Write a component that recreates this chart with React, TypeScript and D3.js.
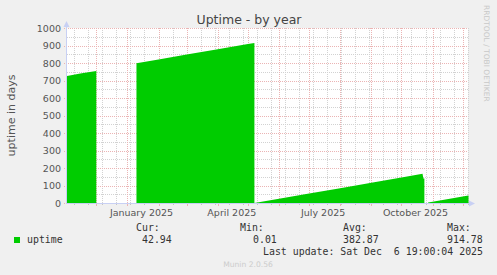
import React from "react";
import * as d3 from "d3";

// ---- data ----
const parse = d3.timeParse("%Y-%m-%d %H:%M");
const rangeStart = "2024-11-01 19:00";
const rangeEnd = "2025-12-06 19:00";

// uptime (days), one array per contiguous run of samples
const seg1Times = ["2024-11-01 19:00", "2024-11-15 00:00", "2024-12-01 00:00"];
const seg1Values = [726, 740, 755];
const seg2Times = ["2025-01-10 00:00", "2025-02-01 00:00", "2025-03-01 00:00", "2025-04-01 00:00", "2025-05-01 00:00", "2025-05-07 12:00"];
const seg2Values = [798, 820, 848, 879, 909, 914.78];
const seg3Times = ["2025-05-07 13:00", "2025-06-01 00:00", "2025-07-01 00:00", "2025-08-01 00:00", "2025-09-01 00:00", "2025-10-01 00:00", "2025-10-22 00:00", "2025-10-22 20:00", "2025-10-23 20:00"];
const seg3Values = [0.01, 24, 54, 85, 116, 146, 167, 140, 140];
const seg4Times = ["2025-10-27 12:00", "2025-11-01 00:00", "2025-12-01 00:00", "2025-12-06 19:00"];
const seg4Values = [2.5, 7.5, 37, 42.94];

const yTicks = [0, 100, 200, 300, 400, 500, 600, 700, 800, 900, 1000];
const yMinor = [50, 150, 250, 350, 450, 550, 650, 750, 850, 950];
const xLabelTimes = ["2025-01-15 00:00", "2025-04-15 00:00", "2025-07-15 00:00", "2025-10-15 00:00"];
const xLabels = ["January 2025", "April 2025", "July 2025", "October 2025"];
const minorGridStart = "2024-11-09 00:00";

const legendHeaders = ["Cur:", "Min:", "Avg:", "Max:"];
const legendValues = ["42.94", "0.01", "382.87", "914.78"];

const segments = [
  [seg1Times, seg1Values],
  [seg2Times, seg2Values],
  [seg3Times, seg3Values],
  [seg4Times, seg4Values],
].map(([t, v]) => (t as string[]).map((s, i) => ({ t: parse(s)!, v: (v as number[])[i] })));

export default function App() {
  const W = 497, H = 275;
  const left = 67, top = 28, bottom = 203;
  const x = d3.scaleTime().domain([parse(rangeStart)!, parse(rangeEnd)!]).range([left, 468.5]);
  const y = d3.scaleLinear().domain([0, 1000]).range([bottom, top]);
  const plotRight = 468;

  const area = d3.area<{ t: Date; v: number }>()
    .x((d) => x(d.t))
    .y0(y(0))
    .y1((d) => y(d.v));

  const months = d3.timeMonth.range(d3.timeMonth.ceil(parse(rangeStart)!), parse(rangeEnd)!);
  const minorDates: Date[] = [];
  for (let d = parse(minorGridStart)!; d < parse(rangeEnd)!; d = d3.timeDay.offset(d, 14)) minorDates.push(d);

  const majorColor = "#ebb4b4";
  const minorColor = "#d2d2d2";
  const axisColor = "#c8d0f4";
  const font = "'DejaVu Sans', sans-serif";
  const mono = "'DejaVu Sans Mono', monospace";

  const px = (v: number) => Math.round(v) + 0.5;

  return (
    <svg width={W} height={H} style={{ position: "absolute", left: 0, top: 0 }}>
      <rect x={0} y={0} width={W} height={H} fill="#f0f0f0" />
      <rect x={left} y={top} width={plotRight - left} height={bottom - top} fill="#ffffff" />

      {/* minor grid */}
      {yMinor.map((v) => (
        <line key={"ym" + v} x1={left} x2={plotRight} y1={px(y(v))} y2={px(y(v))} stroke={minorColor} strokeDasharray="1,1" />
      ))}
      {minorDates.map((d, i) => (
        <g key={"xm" + i}>
          <line x1={px(x(d))} x2={px(x(d))} y1={top} y2={bottom} stroke={minorColor} strokeDasharray="1,1" />
          <line x1={px(x(d))} x2={px(x(d))} y1={bottom} y2={bottom + 2} stroke="#c4c4c4" />
        </g>
      ))}
      {/* major grid */}
      {yTicks.map((v) => (
        <line key={"y" + v} x1={left - 3} x2={plotRight} y1={px(y(v))} y2={px(y(v))} stroke={majorColor} strokeDasharray="1,1" />
      ))}
      {months.map((d, i) => (
        <g key={"x" + i}>
          <line x1={px(x(d))} x2={px(x(d))} y1={top} y2={bottom} stroke={majorColor} strokeDasharray="1,1" />
          <line x1={px(x(d))} x2={px(x(d))} y1={bottom} y2={bottom + 3} stroke={majorColor} />
        </g>
      ))}

      {/* data */}
      {segments.map((s, i) => (
        <path key={"a" + i} d={area(s) || ""} fill="#00cc00" />
      ))}

      {/* axes */}
      <line x1={left - 0.5} x2={left - 0.5} y1={top - 2} y2={bottom + 1} stroke={axisColor} />
      <line x1={left - 1} x2={plotRight + 1} y1={bottom + 0.5} y2={bottom + 0.5} stroke={axisColor} />
      <path d={`M${left - 3.5},${top - 1} L${left - 0.5},${top - 7} L${left + 2.5},${top - 1} Z`} fill={axisColor} />
      <path d={`M${plotRight + 1},${bottom - 2.5} L${plotRight + 7},${bottom + 0.5} L${plotRight + 1},${bottom + 3.5} Z`} fill={axisColor} />

      {/* y labels */}
      {yTicks.map((v) => (
        <text key={"yl" + v} x={61} y={y(v) + 3.5} textAnchor="end" fontFamily={font} fontSize={9.5} fill="#555555">
          {v}
        </text>
      ))}
      {/* x labels */}
      {xLabelTimes.map((s, i) => (
        <text key={"xl" + i} x={x(parse(s)!)} y={216} textAnchor="middle" fontFamily={font} fontSize={9.5} fill="#555555">
          {xLabels[i]}
        </text>
      ))}

      {/* title & axis title */}
      <text x={249} y={24} textAnchor="middle" fontFamily={font} fontSize={12.5} fill="#444444">
        Uptime - by year
      </text>
      <text transform="translate(15,115.5) rotate(-90)" textAnchor="middle" fontFamily={font} fontSize={11} fill="#555555">
        uptime in days
      </text>
      <text transform="translate(484,5) rotate(90)" textAnchor="start" fontFamily={font} fontSize={7.5} fill="#c8c8c8">
        RRDTOOL / TOBI OETIKER
      </text>

      {/* legend */}
      <rect x={14} y={237} width={6} height={6} fill="#00cc00" />
      <text x={27} y={243} fontFamily={mono} fontSize={9.9} fill="#333333">uptime</text>
      {legendHeaders.map((h, i) => {
        const hx = [136, 240, 343, 447][i];
        const vx = [142, 253, 343, 447][i];
        return (
          <g key={"lg" + i}>
            <text x={hx} y={231} fontFamily={mono} fontSize={9.9} fill="#333333">{h}</text>
            <text x={vx} y={243} fontFamily={mono} fontSize={9.9} fill="#333333">{legendValues[i]}</text>
          </g>
        );
      })}
      <text x={483} y={255} textAnchor="end" fontFamily={mono} fontSize={9.9} fill="#333333" style={{ whiteSpace: "pre" }}>
        {"Last update: Sat Dec  6 19:00:04 2025"}
      </text>
      <text x={248} y={267} textAnchor="middle" fontFamily={font} fontSize={7.6} fill="#cccccc">
        Munin 2.0.56
      </text>
    </svg>
  );
}
